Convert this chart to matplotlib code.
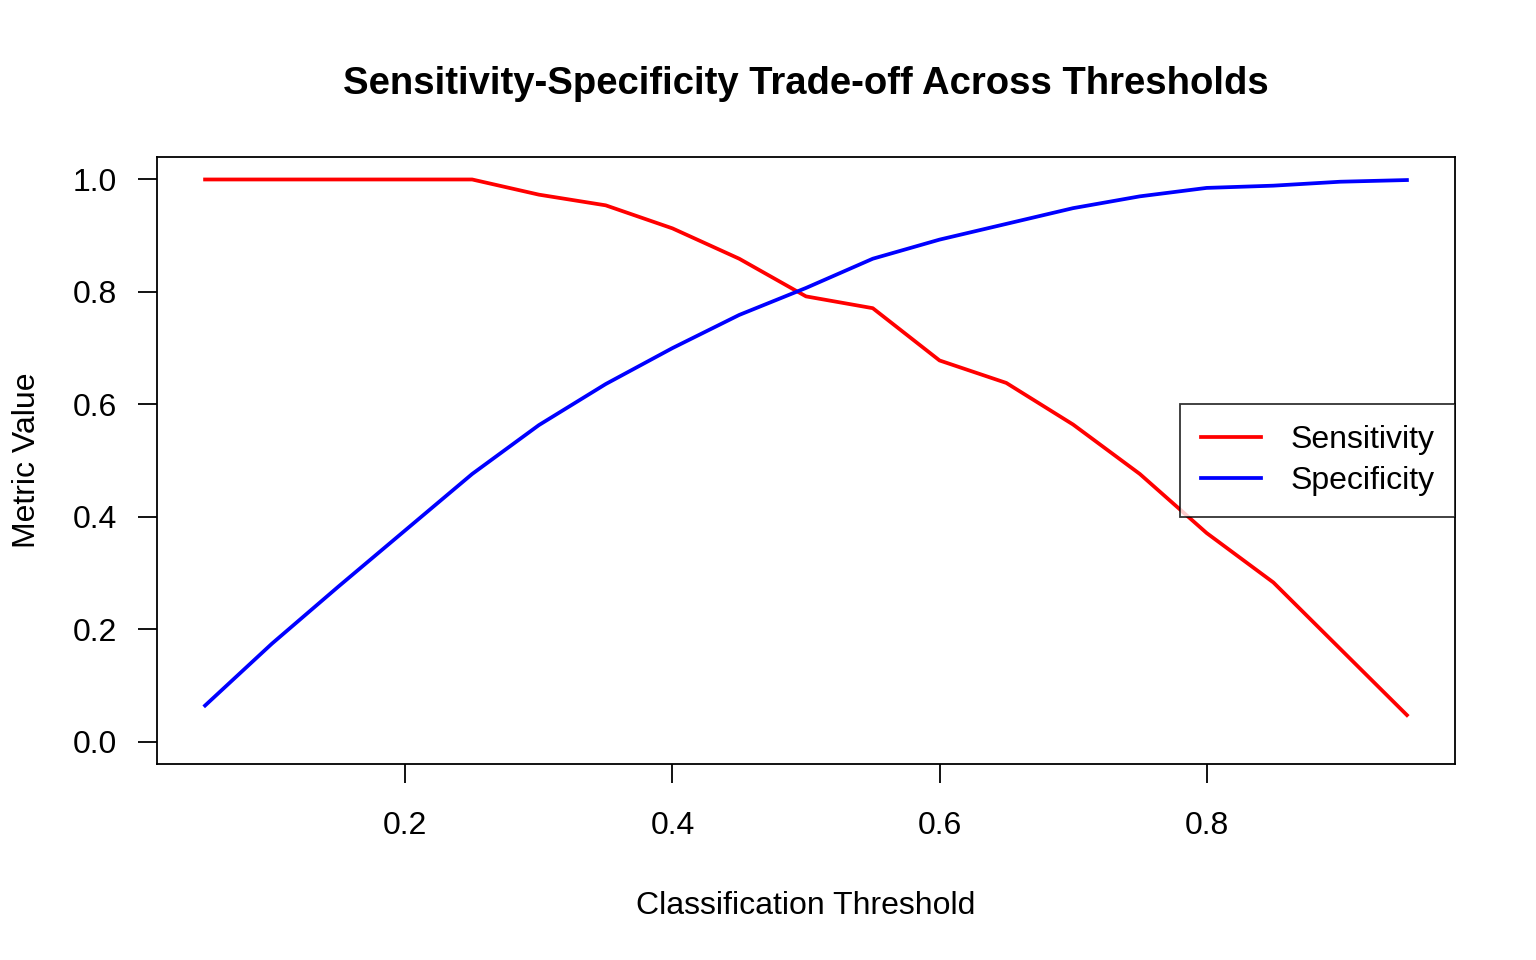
import matplotlib.pyplot as plt
import numpy as np

# data
thresholds = [0.05, 0.10, 0.15, 0.20, 0.25, 0.30, 0.35, 0.40, 0.45, 0.50,
              0.55, 0.60, 0.65, 0.70, 0.75, 0.80, 0.85, 0.90, 0.95]
sensitivity = [1.0, 1.0, 1.0, 1.0, 1.0, 0.973, 0.954, 0.913, 0.859, 0.792,
               0.771, 0.678, 0.638, 0.564, 0.476, 0.371, 0.283, 0.165, 0.047]
specificity = [0.064, 0.174, 0.276, 0.376, 0.476, 0.563, 0.636, 0.700, 0.759, 0.807,
               0.859, 0.893, 0.921, 0.949, 0.970, 0.985, 0.989, 0.996, 0.999]
xticks = [0.2, 0.4, 0.6, 0.8]
yticks = [0.0, 0.2, 0.4, 0.6, 0.8, 1.0]

plt.rcParams['font.family'] = ['Liberation Sans', 'DejaVu Sans']
fontsize = 23
lw = 2.7

fig = plt.figure(figsize=(15.36, 9.6), dpi=100)
ax = fig.add_axes([157/1536, 1 - 764/960, (1455-157)/1536, (764-157)/960])

ax.plot(thresholds, sensitivity, color="red", lw=lw, label="Sensitivity")
ax.plot(thresholds, specificity, color="blue", lw=lw, label="Specificity")

ax.set_xlim(0.014, 0.986)
ax.set_ylim(-0.04, 1.04)
ax.set_xticks(xticks)
ax.set_xticklabels(["{:.1f}".format(t) for t in xticks])
ax.set_yticks(yticks)
ax.set_yticklabels(["{:.1f}".format(t) for t in yticks])
ax.tick_params(axis='both', labelsize=fontsize, direction='out', length=14, width=1.3)
ax.tick_params(axis='x', pad=19.5)
ax.tick_params(axis='y', pad=15)
for sp in ax.spines.values():
    sp.set_linewidth(1.3)

ax.set_title("Sensitivity-Specificity Trade-off Across Thresholds",
             fontsize=27.5, fontweight='bold', pad=45)
ax.set_xlabel("Classification Threshold", fontsize=fontsize, labelpad=36)
ax.set_ylabel("Metric Value", fontsize=fontsize, labelpad=22)

leg = ax.legend(loc="center right", fontsize=fontsize, frameon=True, fancybox=False,
                borderaxespad=0, handlelength=1.9, handletextpad=0.9,
                borderpad=0.65, labelspacing=0.35)
leg.get_frame().set_edgecolor("black")
leg.get_frame().set_linewidth(1.3)

fig.savefig("out.png", dpi=100)
